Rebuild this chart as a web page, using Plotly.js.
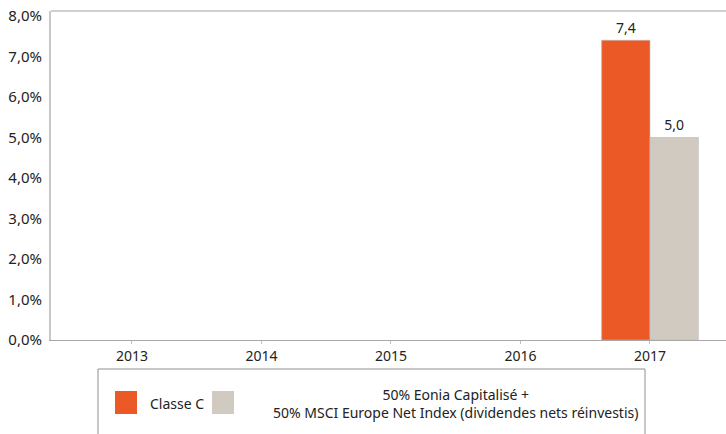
<!DOCTYPE html>
<html>
<head>
<meta charset="utf-8">
<script src="https://cdn.plot.ly/plotly-3.0.1.min.js"></script>
<style>html,body{margin:0;padding:0;background:#fff;}#chart{width:726px;height:434px;}</style>
</head>
<body>
<div id="chart"></div>
<script>
const years = ['2013', '2014', '2015', '2016', '2017'];
const seriesNames = ['Classe C', '50% Eonia Capitalisé +<br>50% MSCI Europe Net Index (dividendes nets réinvestis)'];
const classeC = [null, null, null, null, 7.4];
const benchmark = [null, null, null, null, 5.0];
const yTickValues = [0, 1, 2, 3, 4, 5, 6, 7, 8];
const yTickLabels = ['0,0%', '1,0%', '2,0%', '3,0%', '4,0%', '5,0%', '6,0%', '7,0%', '8,0%'];
const colors = ['#EB5A26', '#D1CAC0'];

const FONT = 'Noto Sans, Open Sans, sans-serif';
const W = 726, H = 434, L = 51, R = 0, T = 11, B = 94;
const pw = W - L - R, ph = H - T - B;
const px = x => (x - L) / pw;
const py = y => (H - B - y) / ph;

const traces = [classeC, benchmark].map((vals, i) => ({
  type: 'bar',
  x: years,
  y: vals,
  name: seriesNames[i],
  marker: {color: colors[i], line: {color: '#b8b8b8', width: 0.6}},
  texttemplate: '%{y:.1f}',
  textposition: 'outside',
  cliponaxis: false,
  textfont: {family: FONT, size: 14, color: '#222'},
  showlegend: false,
  hoverinfo: 'x+y'
}));

const shapes = [
  {type: 'line', xref: 'paper', yref: 'paper', x0: 0, x1: 1, y0: 1, y1: 1, line: {color: '#a0a0a0', width: 1}},
  {type: 'rect', xref: 'paper', yref: 'paper', x0: px(98), x1: px(645), y0: py(369), y1: py(440), line: {color: '#909090', width: 1}, fillcolor: 'rgba(0,0,0,0)'},
  {type: 'rect', xref: 'paper', yref: 'paper', x0: px(115), x1: px(137), y0: py(391), y1: py(414), line: {width: 0}, fillcolor: colors[0]},
  {type: 'rect', xref: 'paper', yref: 'paper', x0: px(212), x1: px(234), y0: py(391), y1: py(414), line: {width: 0}, fillcolor: colors[1]}
];

const annotations = [
  {xref: 'paper', yref: 'paper', x: px(148), y: py(403), xanchor: 'left', yanchor: 'middle', text: seriesNames[0], showarrow: false, font: {family: FONT, size: 14, color: '#222'}},
  {xref: 'paper', yref: 'paper', x: px(455), y: py(403), xanchor: 'center', yanchor: 'middle', align: 'center', text: seriesNames[1], showarrow: false, font: {family: FONT, size: 14, color: '#222'}}
];

const layout = {
  width: W, height: H,
  margin: {l: L, r: R, t: T, b: B, pad: 0},
  paper_bgcolor: '#fff', plot_bgcolor: '#fff',
  font: {family: FONT, size: 14, color: '#222'},
  separators: ',.',
  barmode: 'group',
  bargap: 0.253,
  bargroupgap: 0,
  xaxis: {
    type: 'category',
    range: [-0.625, 4.587],
    showline: true, linecolor: '#a8a8a8', linewidth: 1,
    ticks: 'outside', ticklen: 3, tickcolor: '#c0c0c0',
    showgrid: false, zeroline: false,
    tickfont: {family: FONT, size: 14, color: '#222'}
  },
  yaxis: {
    range: [0, 8.123],
    tickmode: 'array',
    tickvals: yTickValues,
    ticktext: yTickLabels,
    showline: true, linecolor: '#c8c8c8', linewidth: 2,
    ticks: '', showgrid: false, zeroline: false,
    ticklabelstandoff: 4,
    tickfont: {family: FONT, size: 15, color: '#222'}
  },
  shapes: shapes,
  annotations: annotations
};

Plotly.newPlot('chart', traces, layout, {displayModeBar: false, staticPlot: true});
</script>
</body>
</html>
